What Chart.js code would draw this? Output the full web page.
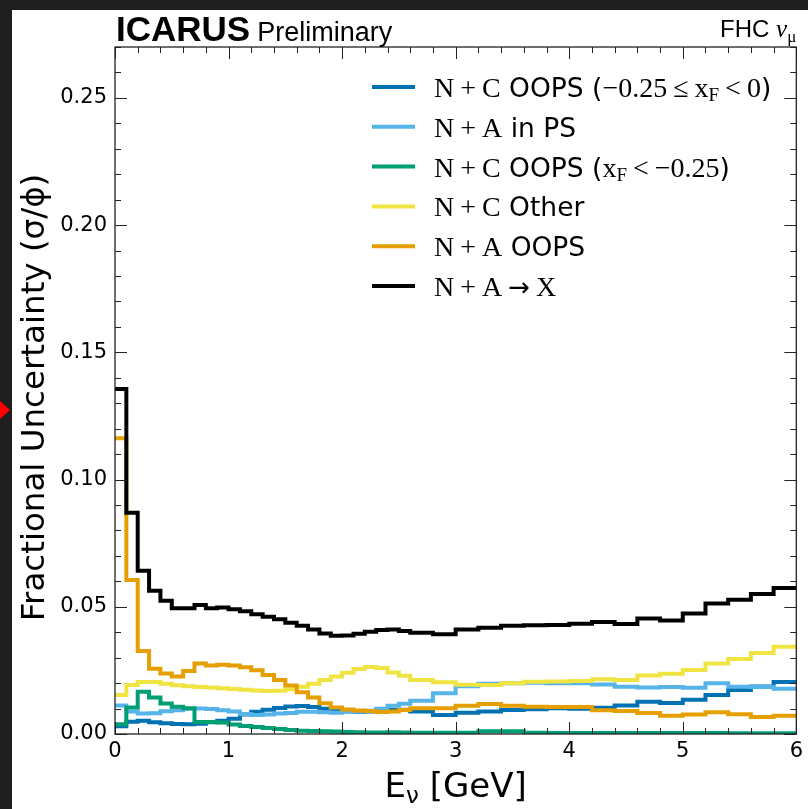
<!DOCTYPE html>
<html>
<head>
<meta charset="utf-8">
<script src="https://cdn.jsdelivr.net/npm/chart.js@4.4.1/dist/chart.umd.min.js"></script>
<style>
  html, body { margin: 0; padding: 0; background: #1f1f1f; width: 808px; height: 809px; overflow: hidden; }
  #wrap { position: absolute; left: 12px; top: 10px; width: 796px; height: 799px; background: #fff; }
  #arrow { position: absolute; left: 0; top: 401px; width: 0; height: 0;
           border-top: 9px solid transparent; border-bottom: 9px solid transparent; border-left: 10px solid #f00; }
</style>
</head>
<body>
<div id="wrap"><canvas id="myChart" width="796" height="799"></canvas></div>
<div id="arrow"></div>
<script>
const ctx = document.getElementById('myChart');

// bin edges in GeV (0.1 wide up to 2.6, 0.2 wide after)
var binEdges = [0, 0.1, 0.2, 0.3, 0.4, 0.5, 0.6, 0.7, 0.8, 0.9, 1.0, 1.1, 1.2, 1.3, 1.4, 1.5, 1.6, 1.7, 1.8, 1.9,
                2.0, 2.1, 2.2, 2.3, 2.4, 2.5, 2.6, 2.8, 3.0, 3.2, 3.4, 3.6, 3.8, 4.0, 4.2, 4.4, 4.6, 4.8,
                5.0, 5.2, 5.4, 5.6, 5.8, 6.0];

var ncOopsMid = [0.0030, 0.0048, 0.0052, 0.0046, 0.0042, 0.0039, 0.0038, 0.0040, 0.0046, 0.0052,
                 0.0060, 0.0077, 0.0087, 0.0095, 0.0102, 0.0108, 0.0110, 0.0106, 0.0099, 0.0094,
                 0.0089, 0.0087, 0.0088, 0.0093, 0.0094, 0.0095,
                 0.0088, 0.0075, 0.0084, 0.0088, 0.0094, 0.0097, 0.0101, 0.0099, 0.0103, 0.0112, 0.0127, 0.0122,
                 0.0135, 0.0153, 0.0173, 0.0187, 0.0204];
var naInPS = [0.0112, 0.0088, 0.0081, 0.0082, 0.0089, 0.0093, 0.0099, 0.0100, 0.0098, 0.0093,
              0.0088, 0.0079, 0.0075, 0.0077, 0.0081, 0.0083, 0.0087, 0.0087, 0.0085, 0.0084,
              0.0087, 0.0089, 0.0091, 0.0099, 0.0111, 0.0119,
              0.0131, 0.0160, 0.0188, 0.0197, 0.0199, 0.0201, 0.0199, 0.0199, 0.0195, 0.0186, 0.0183, 0.0185,
              0.0182, 0.0199, 0.0186, 0.0185, 0.0178];
var ncOopsBack = [0.0038, 0.0104, 0.0166, 0.0143, 0.0120, 0.0107, 0.0101, 0.0047, 0.0047, 0.0045,
                  0.0037, 0.0031, 0.0028, 0.0024, 0.0020, 0.0016, 0.0013, 0.0012, 0.0011, 0.0010,
                  0.0008, 0.0007, 0.0006, 0.0006, 0.0007, 0.0006,
                  0.0005, 0.0005, 0.0005, 0.0011, 0.0011, 0.0005, 0.0004, 0.0004, 0.0004, 0.0004, 0.0004, 0.0004,
                  0.0004, 0.0004, 0.0003, 0.0003, 0.0003];
var ncOther = [0.0153, 0.0193, 0.0204, 0.0204, 0.0197, 0.0192, 0.0188, 0.0185, 0.0183, 0.0180,
               0.0177, 0.0174, 0.0171, 0.0169, 0.0170, 0.0176, 0.0186, 0.0197, 0.0212, 0.0226,
               0.0241, 0.0255, 0.0263, 0.0259, 0.0242, 0.0229,
               0.0212, 0.0203, 0.0194, 0.0193, 0.0199, 0.0205, 0.0206, 0.0208, 0.0215, 0.0212, 0.0230, 0.0237,
               0.0252, 0.0277, 0.0295, 0.0318, 0.0343];
var naOops = [0.1162, 0.0605, 0.0326, 0.0256, 0.0238, 0.0226, 0.0248, 0.0277, 0.0269, 0.0272,
              0.0269, 0.0262, 0.0251, 0.0232, 0.0212, 0.0191, 0.0164, 0.0143, 0.0121, 0.0104,
              0.0096, 0.0092, 0.0090, 0.0086, 0.0088, 0.0094,
              0.0101, 0.0101, 0.0111, 0.0118, 0.0111, 0.0107, 0.0106, 0.0106, 0.0093, 0.0090, 0.0083, 0.0072,
              0.0077, 0.0085, 0.0078, 0.0067, 0.0072];
var naToX = [0.1356, 0.0870, 0.0642, 0.0563, 0.0524, 0.0494, 0.0494, 0.0507, 0.0494, 0.0497,
             0.0490, 0.0482, 0.0471, 0.0461, 0.0451, 0.0437, 0.0425, 0.0411, 0.0395, 0.0386,
             0.0387, 0.0394, 0.0402, 0.0409, 0.0411, 0.0405,
             0.0398, 0.0392, 0.0411, 0.0418, 0.0425, 0.0427, 0.0428, 0.0433, 0.0440, 0.0432, 0.0454, 0.0446,
             0.0474, 0.0513, 0.0528, 0.0550, 0.0574];

var seriesNames = ["N+C OOPS (-0.25<=xF<0)", "N+A in PS", "N+C OOPS (xF<-0.25)", "N+C Other", "N+A OOPS", "N+A->X"];
var seriesValues = [ncOopsMid, naInPS, ncOopsBack, ncOther, naOops, naToX];
var lineColors = ["#0072b2", "#56b4e9", "#009e73", "#f0e442", "#e69f00", "#000000"];
var xTicks = [0, 1, 2, 3, 4, 5, 6];
var yTicks = [0, 0.05, 0.10, 0.15, 0.20, 0.25];

const SANS = '"DejaVu Sans", sans-serif';
const SERIF = '"Liberation Serif", "DejaVu Serif", serif';
const HELV = '"Liberation Sans", Arial, sans-serif';

// histogram as step line: one point per left edge, last edge repeats last value
function histPoints(vals) {
    var pts = vals.map(function (v, i) { return { x: binEdges[i], y: v }; });
    pts.push({ x: binEdges[vals.length], y: vals[vals.length - 1] });
    return pts;
}

function drawRuns(c, x, y, runs) {
    runs.forEach(function (r) {
        x += r.gap || 0;
        c.font = r.font;
        c.fillText(r.t, x, y + (r.dy || 0));
        x += c.measureText(r.t).width;
    });
    return x;
}
function runsWidth(c, runs) {
    var w = 0;
    runs.forEach(function (r) { c.font = r.font; w += (r.gap || 0) + c.measureText(r.t).width; });
    return w;
}

// frame + inward major/minor ticks on all four sides
const frameTicks = {
    id: 'frameTicks',
    afterDatasetsDraw(chart) {
        const c = chart.ctx, a = chart.chartArea, x = chart.scales.x, y = chart.scales.y;
        c.save();
        c.strokeStyle = '#222';
        c.lineWidth = 1;
        c.beginPath();
        for (let k = 0; k <= 30; k++) {
            const px = Math.round(x.getPixelForValue(k * 0.2)) + 0.5;
            const len = k % 5 === 0 ? 12 : 6;
            c.moveTo(px, a.bottom); c.lineTo(px, a.bottom - len);
            c.moveTo(px, a.top); c.lineTo(px, a.top + len);
        }
        for (let k = 0; k <= 27; k++) {
            const py = Math.round(y.getPixelForValue(k * 0.01)) + 0.5;
            const len = k % 5 === 0 ? 12 : 6;
            c.moveTo(a.left, py); c.lineTo(a.left + len, py);
            c.moveTo(a.right, py); c.lineTo(a.right - len, py);
        }
        c.stroke();
        c.lineWidth = 1.3;
        c.strokeRect(a.left, a.top, a.right - a.left, a.bottom - a.top);
        c.restore();
    }
};

// titles, axis labels and legend (mixed fonts, subscripts)
const texts = {
    id: 'texts',
    afterDraw(chart) {
        const c = chart.ctx, a = chart.chartArea;
        c.save();
        c.fillStyle = '#000';
        c.textBaseline = 'alphabetic';
        c.textAlign = 'left';

        // header
        drawRuns(c, a.left + 1, 31, [
            { t: 'ICARUS', font: 'bold 35px ' + HELV },
            { t: 'Preliminary', font: '27px ' + HELV, gap: 7 }
        ]);
        var fhc = [
            { t: 'FHC ', font: '24px ' + HELV },
            { t: 'ν', font: 'italic 25px ' + SERIF },
            { t: 'μ', font: '17px ' + SERIF, dy: 5 }
        ];
        drawRuns(c, a.right - runsWidth(c, fhc), 27, fhc);

        // x title
        var xt = [
            { t: 'E', font: '34px ' + SANS },
            { t: 'ν', font: '23px ' + SANS, dy: 6 },
            { t: ' [GeV]', font: '34px ' + SANS }
        ];
        drawRuns(c, (a.left + a.right) / 2 - runsWidth(c, xt) / 2, 787, xt);

        // y title
        c.save();
        c.translate(24, (a.top + a.bottom) / 2 + 7);
        c.rotate(-Math.PI / 2);
        c.textAlign = 'center';
        c.textBaseline = 'middle';
        c.font = '32.5px ' + SANS;
        c.fillText('Fractional Uncertainty (σ/ϕ)', 0, 0);
        c.restore();

        // legend
        const S = '28px ' + SERIF, D = '26.5px ' + SANS, SUB = '19px ' + SERIF, G = 6;
        const legendRuns = [
            [{ t: 'N', font: S }, { t: '+', font: S, gap: G }, { t: 'C', font: S, gap: G }, { t: ' OOPS (', font: D },
             { t: '−0.25', font: S }, { t: '≤', font: S, gap: G }, { t: 'x', font: S, gap: G }, { t: 'F', font: SUB, dy: 4 },
             { t: '<', font: S, gap: G }, { t: '0', font: S, gap: G }, { t: ')', font: D }],
            [{ t: 'N', font: S }, { t: '+', font: S, gap: G }, { t: 'A', font: S, gap: G }, { t: ' in PS', font: D }],
            [{ t: 'N', font: S }, { t: '+', font: S, gap: G }, { t: 'C', font: S, gap: G }, { t: ' OOPS (', font: D },
             { t: 'x', font: S }, { t: 'F', font: SUB, dy: 4 }, { t: '<', font: S, gap: G }, { t: '−0.25', font: S, gap: G },
             { t: ')', font: D }],
            [{ t: 'N', font: S }, { t: '+', font: S, gap: G }, { t: 'C', font: S, gap: G }, { t: ' Other', font: D }],
            [{ t: 'N', font: S }, { t: '+', font: S, gap: G }, { t: 'A', font: S, gap: G }, { t: ' OOPS', font: D }],
            [{ t: 'N', font: S }, { t: '+', font: S, gap: G }, { t: 'A', font: S, gap: G }, { t: '→', font: '26px ' + SANS, gap: G },
             { t: 'X', font: S, gap: G }]
        ];
        legendRuns.forEach(function (runs, i) {
            const yc = 77 + i * 39.8;
            c.strokeStyle = lineColors[i];
            c.lineWidth = 4;
            c.beginPath();
            c.moveTo(360, yc); c.lineTo(403, yc);
            c.stroke();
            drawRuns(c, 422, yc + 10, runs);
        });
        c.restore();
    }
};

const chart = new Chart(ctx, {
    type: 'line',
    data: {
        datasets: seriesValues.map(function (vals, i) {
            return {
                label: seriesNames[i],
                data: histPoints(vals),
                borderColor: lineColors[i],
                backgroundColor: lineColors[i],
                borderWidth: 4,
                stepped: 'before',
                pointRadius: 0,
                fill: false,
                order: seriesValues.length - i
            };
        })
    },
    options: {
        responsive: false,
        animation: false,
        devicePixelRatio: 1,
        layout: { padding: { top: 37, right: 7, left: 0, bottom: 0 } },
        scales: {
            x: {
                type: 'linear',
                min: 0,
                max: 6,
                grid: { display: false, drawTicks: false },
                border: { display: false },
                afterFit: function (s) { s.height = 75; },
                afterBuildTicks: function (s) { s.ticks = xTicks.map(function (v) { return { value: v }; }); },
                ticks: {
                    padding: 5,
                    color: '#000',
                    font: { family: 'DejaVu Sans', size: 21 },
                    callback: function (v) { return String(v); }
                }
            },
            y: {
                min: 0,
                max: 0.27,
                grid: { display: false, drawTicks: false },
                border: { display: false },
                afterFit: function (s) { s.width = 103; },
                afterBuildTicks: function (s) { s.ticks = yTicks.map(function (v) { return { value: v }; }); },
                ticks: {
                    padding: 8,
                    color: '#000',
                    font: { family: 'DejaVu Sans', size: 21 },
                    callback: function (v) { return v.toFixed(2); }
                }
            }
        },
        plugins: {
            legend: { display: false },
            tooltip: { enabled: false }
        }
    },
    plugins: [frameTicks, texts]
});
</script>
</body>
</html>
